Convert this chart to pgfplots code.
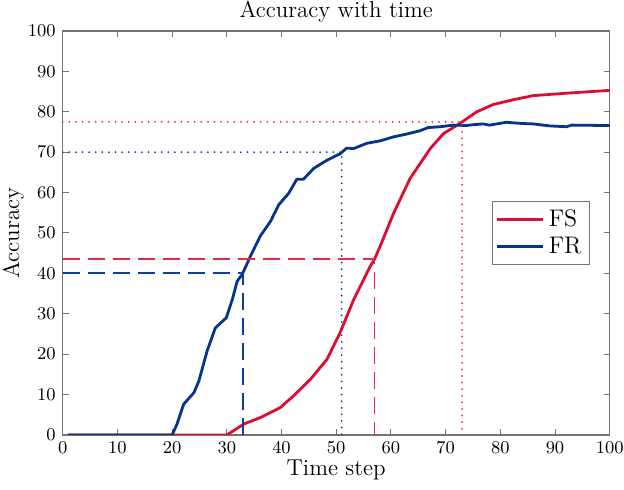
\documentclass[border=0pt]{standalone}
\usepackage{pgfplots}
\pgfplotsset{compat=1.18}
\definecolor{fsred}{RGB}{222,12,48}
\definecolor{frblue}{RGB}{4,52,140}
\definecolor{fsredl}{RGB}{228,40,72}
\definecolor{frbluel}{RGB}{15,62,148}
\definecolor{axgray}{RGB}{115,115,115}
\begin{document}
\begin{tikzpicture}
\useasboundingbox (-31.35pt,-27.5pt) rectangle (280.65pt,217.5pt);
\begin{axis}[
  at={(0pt,0pt)}, anchor=south west,
  scale only axis,
  width=273.5pt, height=202pt,
  xmin=0, xmax=100, ymin=0, ymax=100,
  xtick distance=10, ytick distance=10,
  tick align=inside,
  major tick length=3pt,
  axis line style={draw=axgray, line width=0.7pt},
  major tick style={draw=axgray, line width=0.5pt},
  tick label style={font=\fontsize{9}{10}\selectfont},
  label style={font=\fontsize{11.5}{13}\selectfont},
  title style={font=\fontsize{11.5}{13}\selectfont, at={(axis description cs:0.5,1)}, anchor=center, yshift=3.5pt},
  title={Accuracy with time},
  xlabel={Time step}, ylabel={Accuracy},
  xlabel style={at={(axis description cs:0.5,0)}, anchor=center, yshift=-17.5pt},
  ylabel style={at={(axis description cs:-0.0906,0.5)}, anchor=center},
  legend style={at={(0.874,0.5)}, anchor=center, draw=axgray,
    font=\fontsize{12}{14}\selectfont, inner sep=2pt, row sep=-0.5pt,
    legend cell align=left},
  legend image code/.code={\draw[#1] (0pt,0pt) -- (23pt,0pt);},
]
\addplot[fsred, line width=1.4pt] coordinates {
(1,0)(30,0)(33.1,2.7)(36.1,4.3)(39.8,6.8)(42.2,9.7)(45.3,13.8)(48.3,18.7)(50.7,25.3)(53.2,33.5)(56.2,41.7)(57,43.5)(58,46.6)(60.5,54.9)(63.5,63.5)(67.2,70.9)(69.6,74.6)(72.6,77.1)(75.7,80)(78.7,81.8)(82.4,83)(86,84)(92.1,84.6)(100,85.3)
};
\addlegendentry{FS}
\addplot[frblue, line width=1.4pt] coordinates {
(1,0)(20,0)(20.9,2.7)(22.1,7.6)(24,10.5)(24.9,13.4)(26.4,20.8)(27.9,26.5)(29.9,29)(31,33.5)(31.9,38.1)(32.8,39.7)(34.3,44.2)(36.1,49.2)(38,52.9)(39.5,57)(41.3,59.8)(42.8,63.3)(44,63.3)(45.9,66)(48.3,68)(50.7,69.6)(51.9,71.0)(53.2,70.9)(55.6,72.2)(58,72.8)(60.5,73.8)(62.9,74.5)(65.3,75.3)(66.8,76.1)(69,76.3)(71.4,76.7)(73.8,76.6)(75,76.8)(76.9,77)(78,76.7)(81.1,77.4)(84,77.1)(86,77)(89.1,76.5)(92.1,76.3)(93,76.7)(100,76.6)
};
\addlegendentry{FR}
% reference lines
\addplot[fsredl, line width=1pt, line cap=round, dash pattern=on 0pt off 3.3pt, forget plot] coordinates {(0,77.5)(73,77.5)(73,0)};
\addplot[frbluel, line width=1pt, line cap=round, dash pattern=on 0pt off 3.3pt, forget plot] coordinates {(0,70)(51,70)(51,0)};
\addplot[fsredl, line width=0.9pt, dash pattern=on 8.5pt off 4pt, forget plot] coordinates {(0,43.5)(57,43.5)(57,0)};
\addplot[frbluel, line width=0.9pt, dash pattern=on 8.5pt off 4pt, forget plot] coordinates {(0,40)(33,40)(33,0)};
\end{axis}
\end{tikzpicture}
\end{document}
